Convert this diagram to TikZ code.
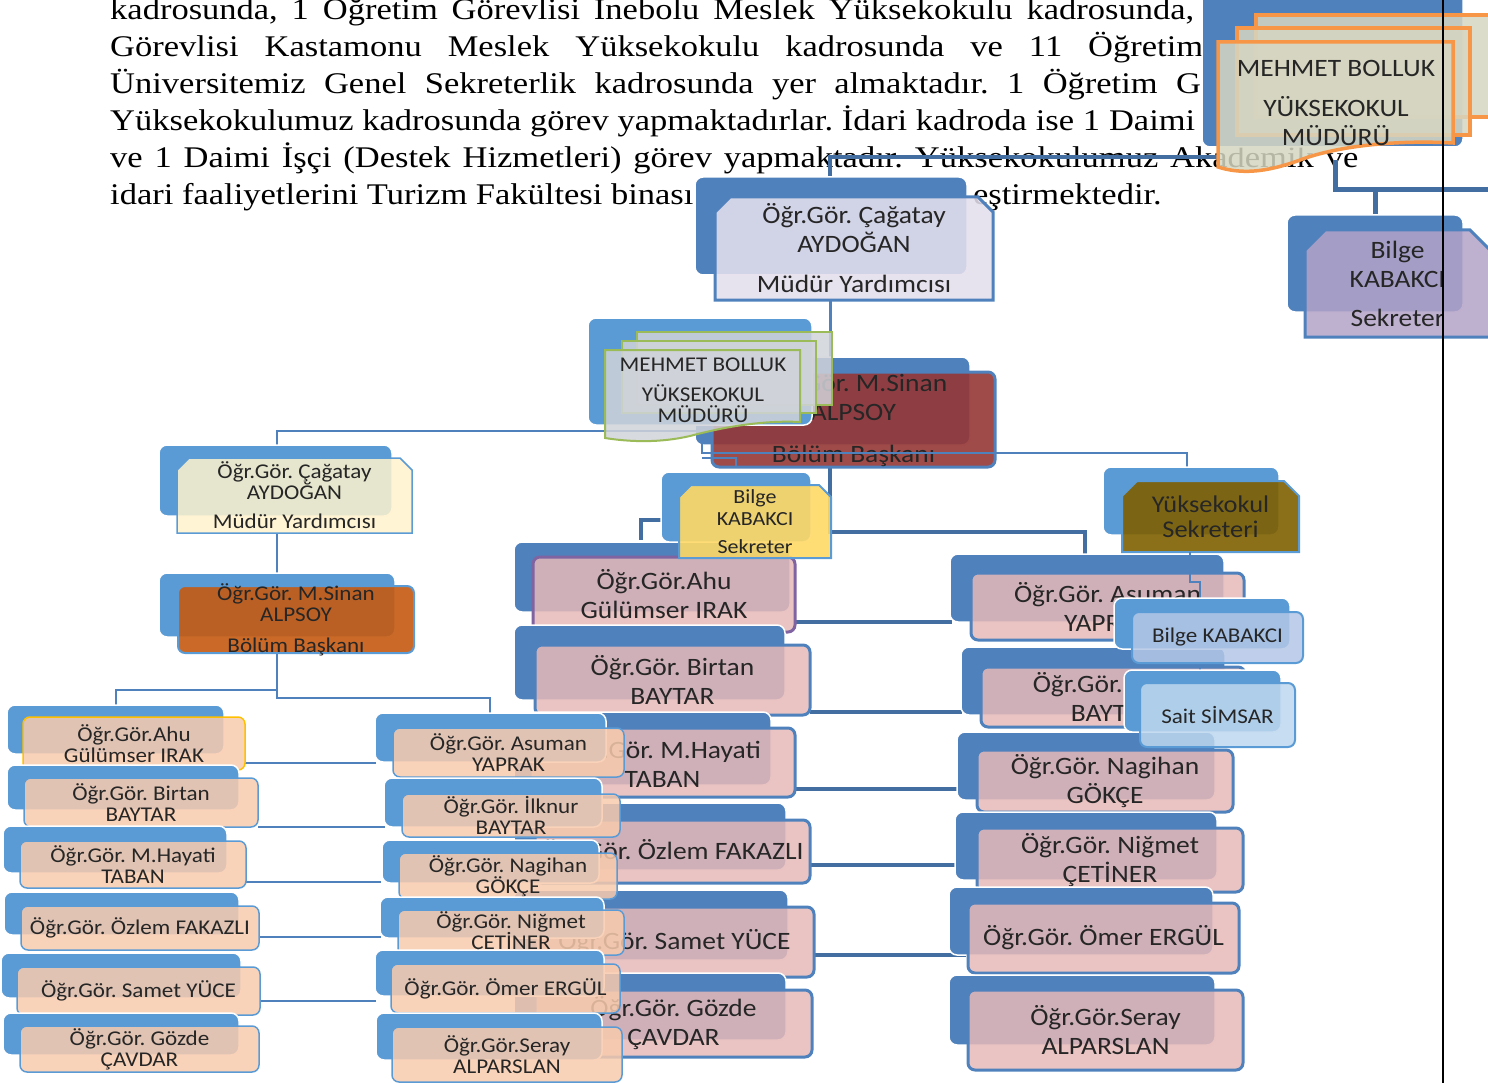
\documentclass[tikz,border=0pt]{standalone}
\usepackage{fontspec}
\setmainfont[FakeStretch=1.1]{Carlito}
\newfontfamily\bodyfont[FakeStretch=1.15]{Liberation Serif}
\frenchspacing

\definecolor{blueD}{HTML}{4F81BD}
\definecolor{blueL}{HTML}{5B9BD5}
\definecolor{pinkF}{HTML}{E6B9B8}
\definecolor{peachF}{HTML}{F8CBAD}
\definecolor{beigeF}{HTML}{FFF2CC}
\definecolor{rustF}{HTML}{C55A11}
\definecolor{maroonF}{HTML}{953735}
\definecolor{yellowF}{HTML}{FFD966}
\definecolor{oliveF}{HTML}{7F6000}
\definecolor{lavF}{HTML}{E4DFEC}
\definecolor{purpF}{HTML}{B3A2C7}
\definecolor{skyF}{HTML}{B4C7E7}
\definecolor{skyG}{HTML}{BDD7EE}
\definecolor{docF}{HTML}{D6D6C2}
\definecolor{docG}{HTML}{D0D3D9}
\definecolor{orangeL}{HTML}{F79646}
\definecolor{greenL}{HTML}{9BBB59}
\definecolor{purpL}{HTML}{8064A2}
\definecolor{goldL}{HTML}{FFC000}

\tikzset{
  back/.style={fill=#1, draw=white, line width=1.5pt, rounded corners=8pt},
  link/.style={draw=blueD!85!black, line width=4pt},
  thinlink/.style={draw=blueD, line width=2pt},
  bodytxt/.style={font=\bodyfont\fontsize{30}{37}\selectfont, inner sep=0pt},
  txtB/.style={font=\fontsize{25}{29}\selectfont, align=center, inner sep=0pt, text=black!85},
  txtO/.style={font=\fontsize{24}{25}\selectfont, align=center, inner sep=0pt, text=black!85},
  txtM/.style={font=\fontsize{20}{22}\selectfont, align=center, inner sep=0pt, text=black!85},
  txtS/.style={font=\fontsize{21}{21}\selectfont, align=center, inner sep=0pt, text=black!85},
  pinkc/.style={fill=pinkF, fill opacity=.85, draw=blueD, line width=3pt},
  peachc/.style={fill=peachF, fill opacity=.85, draw=blueL, line width=1.5pt},
  beigec/.style={fill=beigeF, fill opacity=.85, draw=blueL, line width=1.5pt},
  orangedoc/.style={fill=docF, fill opacity=.85, draw=orangeL, line width=3.5pt},
  greendoc/.style={fill=docG, fill opacity=.85, draw=greenL, line width=2pt}
}

% back panel behind a card
\newcommand{\cardback}[5]{\filldraw[back=#5] (#1,#2) rectangle (#3,#4);}
% rounded card with its text
\newcommand{\rcard}[8]{%
  \filldraw[#6, rounded corners=7pt] (#2,#3) rectangle (#4,#5);
  \node[#7] (#1) at ({(#2+#4)/2},{(#3+#5)/2}) {#8};}
% card with both top corners snipped
\newcommand{\scard}[9]{%
  \filldraw[#6] (#2,{#3+#9}) -- ({#2+#9},#3) -- ({#4-#9},#3) -- (#4,{#3+#9}) -- (#4,#5) -- (#2,#5) -- cycle;
  \node[#7] (#1) at ({(#2+#4)/2},{(#3+#5)/2}) {#8};}

\begin{document}
\begin{tikzpicture}[x=1pt, y=-1pt]
  \useasboundingbox (0,0) rectangle (1488,1083);

  % page text
  \node[bodytxt, anchor=base west] (ln1) at (110,20) {\makebox[1084pt][s]{kadrosunda, 1 Öğretim Görevlisi İnebolu Meslek Yüksekokulu kadrosunda,}};
  \node[bodytxt, anchor=base west] (ln2) at (110,57) {\makebox[1093pt][s]{Görevlisi Kastamonu Meslek Yüksekokulu kadrosunda ve 11 Öğretim}};
  \node[bodytxt, anchor=base west] (ln3) at (110,94) {\makebox[1108pt][s]{Üniversitemiz Genel Sekreterlik kadrosunda yer almaktadır. 1 Öğretim Gö}};
  \node[bodytxt, anchor=base west] (ln4) at (110,131) {\makebox[1085pt][s]{Yüksekokulumuz kadrosunda görev yapmaktadırlar. İdari kadroda ise 1 Daimi}};
  \node[bodytxt, anchor=base west] (ln5) at (110,168) {\makebox[1248pt][s]{ve 1 Daimi İşçi (Destek Hizmetleri) görev yapmaktadır. Yüksekokulumuz Akademik ve}};
  \node[bodytxt, anchor=base west] (ln6) at (110,205) {idari faaliyetlerini Turizm Fakültesi binası};
  \node[bodytxt, anchor=base east] (ln6b) at (1162,205) {eştirmektedir.};

  % staff chart, links first
  \coordinate (trA) at (830,467);
  \coordinate (trB) at (830,532);
  \coordinate (trC) at (1085,532);
  \coordinate (trD) at (1085,554);
  \draw[link] (trA) -- (trB) -- (trC) -- (trD);
  \coordinate (skA) at (672,520);
  \coordinate (skB) at (641,520);
  \coordinate (skC) at (641,540);
  \draw[link] (skA) -- (skB) -- (skC);
  \foreach \i/\ya/\xa/\xb in {1/622/795/952, 2/712/810/962, 3/789/795/958, 4/865/810/956, 5/955/814/966} {
    \coordinate (rowL\i) at (\xa,\ya);
    \coordinate (rowR\i) at (\xb,\ya);
    \draw[link] (rowL\i) -- (rowR\i);
  }

  \cardback{514}{542}{790}{612}{blueD}
  \rcard{ahuM}{533}{557}{795}{632}{pinkc, draw=purpL}{txtB}{Öğr.Gör.Ahu\\Gülümser IRAK}
  \cardback{514}{625}{785}{700}{blueD}
  \rcard{birtanM}{535}{645}{810}{715}{pinkc}{txtB}{Öğr.Gör. Birtan\\BAYTAR}
  \cardback{514}{712}{771}{785}{blueD}
  \rcard{hayatiM}{530}{728}{795}{797}{pinkc}{txtB}{Öğr.Gör. M.Hayati\\TABAN}
  \cardback{514}{803}{786}{870}{blueD}
  \rcard{ozlemM}{535}{820}{810}{883}{pinkc}{txtB}{Öğr.Gör. Özlem FAKAZLI}
  \cardback{514}{890}{788}{960}{blueD}
  \rcard{sametM}{535}{907}{814}{977}{pinkc}{txtB}{Öğr.Gör. Samet YÜCE}
  \cardback{514}{973}{786}{1040}{blueD}
  \rcard{gozdeM}{535}{990}{812}{1057}{pinkc}{txtB}{Öğr.Gör. Gözde\\ÇAVDAR}

  \cardback{950}{554}{1224}{622}{blueD}
  \rcard{asumanM}{971}{573}{1244}{640}{pinkc}{txtB}{Öğr.Gör. Asuman\\YAPRAK}
  \cardback{961}{647}{1225}{715}{blueD}
  \rcard{ilknurM}{981}{667}{1245}{727}{pinkc}{txtB}{Öğr.Gör. İlknur\\BAYTAR}
  \cardback{957}{732}{1215}{800}{blueD}
  \rcard{nagihanM}{977}{750}{1233}{812}{pinkc}{txtB}{Öğr.Gör. Nagihan\\GÖKÇE}
  \cardback{955}{812}{1217}{880}{blueD}
  \rcard{nigmetM}{977}{828}{1243}{892}{pinkc}{txtB}{Öğr.Gör. Niğmet\\ÇETİNER}
  \cardback{949}{887}{1213}{955}{blueD}
  \rcard{omerM}{968}{903}{1239}{973}{pinkc}{txtB}{Öğr.Gör. Ömer ERGÜL}
  \cardback{949}{975}{1215}{1045}{blueD}
  \rcard{serayM}{968}{990}{1243}{1070}{pinkc}{txtB}{Öğr.Gör.Seray\\ALPARSLAN}

  % head of the middle chart
  \coordinate (topA) at (1218,157);
  \coordinate (topB) at (830,157);
  \coordinate (topC) at (830,179);
  \draw[link] (topA) -- (topB) -- (topC);
  \coordinate (midA) at (830,300);
  \coordinate (midB) at (830,372);
  \draw[draw=blueD, line width=3pt] (midA) -- (midB);
  \cardback{695}{177}{967}{275}{blueD}
  \scard{cagM}{715}{197}{993}{300}{fill=lavF, fill opacity=.88, draw=blueD, line width=3pt}{txtB}{Öğr.Gör. Çağatay\\AYDOĞAN\\[11pt]Müdür Yardımcısı}{15}
  \cardback{695}{357}{970}{445}{blueD}
  \rcard{sinanM}{712}{372}{995}{467}{fill=maroonF, fill opacity=.9, draw=blueD, line width=3pt}{txtB}{Öğr.Gör. M.Sinan\\ALPSOY\\[13pt]Bölüm Başkanı}
  \cardback{661}{472}{811}{542}{blueL}
  \scard{bilgeM}{679}{485}{831}{558}{fill=yellowF, fill opacity=.9, draw=blueL, line width=2pt}{txtM}{Bilge\\KABAKCI\\[6pt]Sekreter}{12}

  % left chart
  \coordinate (lkA) at (277,446);
  \coordinate (lkB) at (277,431);
  \coordinate (lkC) at (702,431);
  \coordinate (lkD) at (702,453);
  \coordinate (lkE) at (1187,453);
  \coordinate (lkF) at (1187,468);
  \draw[thinlink] (lkA) -- (lkB) -- (lkC) -- (lkD) -- (lkE) -- (lkF);
  \coordinate (lkG) at (702,458);
  \coordinate (lkH) at (736,458);
  \coordinate (lkI) at (736,467);
  \draw[thinlink] (lkG) -- (lkH) -- (lkI);
  \coordinate (lcA) at (277,533);
  \coordinate (lcB) at (277,586);
  \draw[thinlink] (lcA) -- (lcB);
  \coordinate (lsA) at (277,653);
  \coordinate (lsB) at (277,690);
  \coordinate (lsC) at (116,690);
  \coordinate (lsD) at (116,706);
  \coordinate (lsE) at (277,698);
  \coordinate (lsF) at (490,698);
  \coordinate (lsG) at (490,714);
  \draw[thinlink] (lsA) -- (lsE) -- (lsF) -- (lsG);
  \draw[thinlink] (lsD) -- (lsC) -- (lsB);
  \foreach \i/\ya/\xa/\xb in {1/763/245/376, 2/827/258/385, 3/882/246/381, 4/937/259/381, 5/1001/260/376} {
    \coordinate (pairL\i) at (\xa,\ya);
    \coordinate (pairR\i) at (\xb,\ya);
    \draw[thinlink] (pairL\i) -- (pairR\i);
  }

  \cardback{159}{445}{392}{516}{blueL}
  \scard{cagL}{177}{458}{412}{533}{beigec}{txtS}{Öğr.Gör. Çağatay\\AYDOĞAN\\[8pt]Müdür Yardımcısı}{12}
  \cardback{159}{573}{395}{637}{blueL}
  \rcard{sinanL}{178}{586}{414}{653}{fill=rustF, fill opacity=.9, draw=blueL, line width=2pt}{txtS}{Öğr.Gör. M.Sinan\\ALPSOY\\[10pt]Bölüm Başkanı}

  \cardback{7}{705}{224}{754}{blueL}
  \rcard{ahuL}{23}{717}{245}{770}{peachc, draw=goldL}{txtS}{Öğr.Gör.Ahu\\Gülümser IRAK}
  \cardback{7}{765}{239}{810}{blueL}
  \rcard{birtanL}{24}{778}{258}{827}{peachc}{txtS}{Öğr.Gör. Birtan\\BAYTAR}
  \cardback{3}{826}{227}{873}{blueL}
  \rcard{hayatiL}{20}{841}{246}{888}{peachc}{txtS}{Öğr.Gör. M.Hayati\\TABAN}
  \cardback{4}{892}{239}{935}{blueL}
  \rcard{ozlemL}{21}{906}{259}{950}{peachc}{txtS}{Öğr.Gör. Özlem FAKAZLI}
  \cardback{1}{953}{241}{998}{blueL}
  \rcard{sametL}{17}{967}{260}{1015}{peachc}{txtS}{Öğr.Gör. Samet YÜCE}
  \cardback{3}{1013}{239}{1055}{blueL}
  \rcard{gozdeL}{20}{1026}{259}{1072}{peachc}{txtS}{Öğr.Gör. Gözde\\ÇAVDAR}

  \cardback{375}{713}{606}{762}{blueL}
  \rcard{asumanL}{393}{728}{624}{777}{peachc}{txtS}{Öğr.Gör. Asuman\\YAPRAK}
  \cardback{384}{778}{602}{827}{blueL}
  \rcard{ilknurL}{402}{794}{620}{837}{peachc}{txtS}{Öğr.Gör. İlknur\\BAYTAR}
  \cardback{382}{840}{599}{883}{blueL}
  \rcard{nagihanL}{399}{853}{617}{899}{peachc}{txtS}{Öğr.Gör. Nagihan\\GÖKÇE}
  \cardback{380}{897}{604}{938}{blueL}
  \rcard{nigmetL}{398}{910}{624}{955}{peachc}{txtS}{Öğr.Gör. Niğmet\\ÇETİNER}
  \cardback{375}{950}{604}{996}{blueL}
  \rcard{omerL}{391}{964}{620}{1013}{peachc}{txtS}{Öğr.Gör. Ömer ERGÜL}
  \cardback{376}{1013}{602}{1060}{blueL}
  \rcard{serayL}{392}{1027}{622}{1082}{peachc}{txtS}{Öğr.Gör.Seray\\ALPARSLAN}

  % director pages, green
  \cardback{588}{318}{812}{425}{blueL}
  \filldraw[greendoc] (637,332) rectangle (832,405);
  \filldraw[greendoc] (622,341) rectangle (816,413);
  \filldraw[greendoc] (605,438) -- (605,350) -- (800,350) -- (800,422)
    .. controls (760,420) and (720,428) .. (690,436)
    .. controls (660,443) and (630,442) .. (605,438) -- cycle;
  \node[txtS] (mudurM) at (703,390) {MEHMET BOLLUK\\[9pt]YÜKSEKOKUL\\MÜDÜRÜ};

  % secretary branch
  \cardback{1103}{467}{1279}{535}{blueL}
  \scard{sekR}{1122}{481}{1299}{552}{fill=oliveF, fill opacity=.9, draw=blueL, line width=2pt}{txtO}{Yüksekokul\\Sekreteri}{15}
  \coordinate (sbA) at (1190,552);
  \coordinate (sbB) at (1190,582);
  \coordinate (sbC) at (1200,582);
  \coordinate (sbD) at (1200,690);
  \draw[thinlink] (sbA) -- (sbB) -- (sbC) -- (sbD);
  \cardback{1114}{598}{1290}{649}{blueL}
  \rcard{bilgeR}{1132}{612}{1303}{663}{fill=skyF, fill opacity=.85, draw=blueL, line width=2pt}{txtS}{Bilge KABAKCI}
  \cardback{1124}{670}{1281}{732}{blueL}
  \rcard{saitR}{1140}{683}{1295}{747}{fill=skyG, fill opacity=.85, draw=blueL, line width=2pt}{txtS}{Sait SİMSAR}

  % director pages, orange
  \coordinate (odA) at (1335,160);
  \coordinate (odB) at (1335,190);
  \coordinate (odC) at (1490,190);
  \coordinate (odD) at (1375,190);
  \coordinate (odE) at (1375,214);
  \draw[link, line width=5pt] (odA) -- (odB) -- (odC);
  \draw[link, line width=5pt] (odD) -- (odE);
  \cardback{1202}{-10}{1463}{147}{blueD}
  \filldraw[orangedoc] (1256,15) rectangle (1500,117);
  \filldraw[orangedoc] (1237,28) rectangle (1470,135);
  \filldraw[orangedoc] (1218,167) -- (1218,42) -- (1453,42) -- (1453,143)
    .. controls (1400,140) and (1340,145) .. (1300,160)
    .. controls (1265,173) and (1240,174) .. (1218,167) -- cycle;
  \node[txtB] (mudurT) at (1336,103) {MEHMET BOLLUK\\[11pt]YÜKSEKOKUL\\MÜDÜRÜ};

  \cardback{1287}{215}{1463}{312}{blueD}
  \scard{bilgeT}{1305}{230}{1490}{337}{fill=purpF, fill opacity=.85, draw=blueD, line width=3pt}{txtB}{Bilge\\KABAKCI\\[10pt]Sekreter}{20}

  % page edge
  \coordinate (edgeT) at (1443,0);
  \coordinate (edgeB) at (1443,1083);
  \draw[line width=1.5pt] (edgeT) -- (edgeB);
\end{tikzpicture}
\end{document}
